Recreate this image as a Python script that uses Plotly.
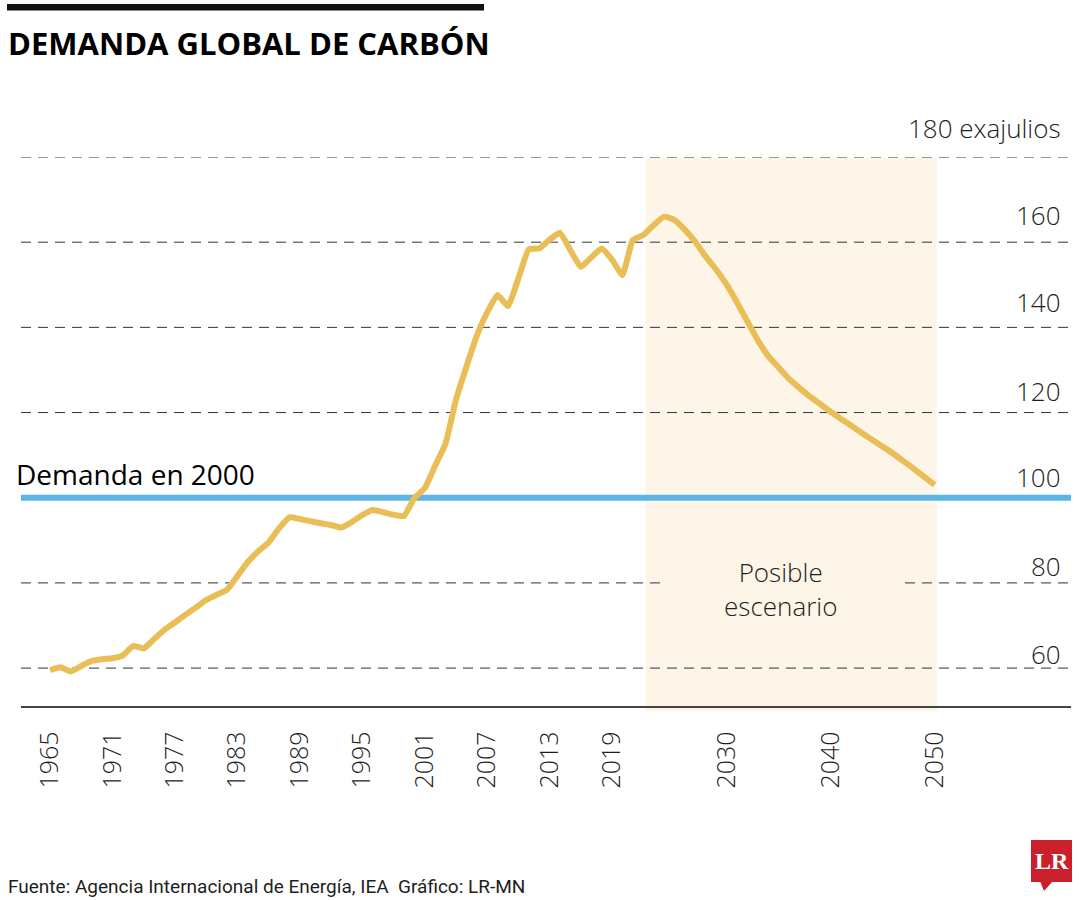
import plotly.graph_objects as go

# ---------------- data ----------------
years_hist = list(range(1965, 2025))
demand_hist = [
    59.5, 60.2, 59.2, 60.5, 61.7, 62.1, 62.3, 63.0, 65.2, 64.6,   # 1965-1974
    66.8, 69.0, 70.7, 72.5, 74.2, 76.0, 77.2, 78.4, 81.6, 84.9,   # 1975-1984
    87.4, 89.5, 92.8, 95.4, 95.0, 94.5, 94.0, 93.6, 93.0, 94.3,   # 1985-1994
    95.9, 97.1, 96.6, 96.0, 95.7, 99.9, 102.2, 107.5, 112.7, 123.0,  # 1995-2004
    130.7, 138.0, 143.5, 147.6, 145.0, 151.5, 158.3, 158.5, 160.6, 162.2,  # 2005-2014
    158.1, 154.2, 156.4, 158.5, 155.9, 152.3, 160.5, 161.7, 164.0, 166.0,  # 2015-2024
]
years_proj = list(range(2025, 2051))
demand_proj = [
    165.2, 162.9, 160.1, 156.6, 153.6, 150.1, 145.9, 141.4, 137.0, 133.3,  # 2025-2034
    130.6, 127.9, 125.8, 123.8, 122.0, 120.2, 118.5, 116.9, 115.2, 113.6,  # 2035-2044
    112.0, 110.4, 108.6, 106.8, 104.9, 103.0,                              # 2045-2050
]
demand_2000 = 100
scenario_years = [2022.25, 2050.2]

grid_values = [180, 160, 140, 120, 60]
split_grid_value = 80
y_label_values = [180, 160, 140, 120, 100, 80, 60]
y_label_texts = ["180 exajulios", "160", "140", "120", "100", "80", "60"]
tick_years = [1965, 1971, 1977, 1983, 1989, 1995, 2001, 2007, 2013, 2019, 2030, 2040, 2050]

title = "DEMANDA GLOBAL DE CARBÓN"
line_label = "Demanda en 2000"
scenario_label = "Posible<br>escenario"
source = "Fuente: Agencia Internacional de Energía, IEA  Gráfico: LR-MN"

# ---------------- styles ----------------
GOLD = "#E9BE57"
BLUE = "#5DB5E5"
CREAM = "#FDF5E7"
RED = "#C9202C"
TXT = "#1e1e1e"
FONT = "Open Sans"

W, H = 1080, 900
ML, MR, MT, MB = 21, 9, 157, 194
PW = W - ML - MR
PH = H - MT - MB


def px_x(px):
    return (px - ML) / PW


def px_y(py):
    return (H - MB - py) / PH


fig = go.Figure()

fig.add_trace(go.Scatter(
    x=years_hist + years_proj,
    y=demand_hist + demand_proj,
    mode="lines",
    line=dict(color=GOLD, width=6, shape="spline", smoothing=0.4),
    hoverinfo="skip",
    showlegend=False,
))

shapes = []
shapes.append(dict(type="rect", xref="x", yref="paper",
                   x0=scenario_years[0], x1=scenario_years[1], y0=-0.01, y1=0.998,
                   fillcolor=CREAM, line=dict(width=0), layer="below"))
dash = "10px,7px"
for v in grid_values:
    shapes.append(dict(type="line", xref="paper", yref="y", x0=0, x1=1, y0=v, y1=v,
                       line=dict(color="#333333", width=1, dash=dash), layer="below"))
for a, b in [(0, px_x(665)), (px_x(905), 1)]:
    shapes.append(dict(type="line", xref="paper", yref="y", x0=a, x1=b,
                       y0=split_grid_value, y1=split_grid_value,
                       line=dict(color="#333333", width=1, dash=dash), layer="below"))
shapes.append(dict(type="line", xref="paper", yref="y", x0=0, x1=1,
                   y0=demand_2000, y1=demand_2000,
                   line=dict(color=BLUE, width=6), layer="below"))
shapes.append(dict(type="rect", xref="paper", yref="paper",
                   x0=px_x(7), x1=px_x(484), y0=px_y(10.5), y1=px_y(4),
                   fillcolor="#111111", line=dict(width=0)))
shapes.append(dict(type="rect", xref="paper", yref="paper",
                   x0=px_x(1031), x1=px_x(1072), y0=px_y(882), y1=px_y(840),
                   fillcolor=RED, line=dict(width=0)))
shapes.append(dict(type="path", xref="paper", yref="paper",
                   path=f"M {px_x(1040)} {px_y(881)} L {px_x(1053)} {px_y(881)} L {px_x(1044)} {px_y(891)} Z",
                   fillcolor=RED, line=dict(width=0)))

annotations = []
annotations.append(dict(text=f"<b>{title}</b>", xref="paper", yref="paper",
                        x=px_x(6), y=px_y(43), xanchor="left", yanchor="middle",
                        showarrow=False, font=dict(family=FONT, size=31, color="#000000")))
annotations.append(dict(text=line_label, xref="paper", yref="paper",
                        x=px_x(14), y=px_y(474), xanchor="left", yanchor="middle",
                        showarrow=False, font=dict(family=FONT, size=28, color="#000000")))
annotations.append(dict(text=scenario_label, xref="paper", yref="paper",
                        x=px_x(780), y=px_y(589), xanchor="center", yanchor="middle",
                        showarrow=False, font=dict(family=FONT, size=26, color=TXT, weight=300)))
shifts = [29.5, 27, 25, 21.5, 21, 17, 14.5]
for v, t, s in zip(y_label_values, y_label_texts, shifts):
    annotations.append(dict(text=t, xref="paper", yref="y", x=px_x(1063), y=v,
                            xanchor="right", yanchor="middle", yshift=s, showarrow=False,
                            font=dict(family=FONT, size=26, color=TXT, weight=300)))
annotations.append(dict(text=source, xref="paper", yref="paper",
                        x=px_x(6), y=px_y(886), xanchor="left", yanchor="middle",
                        showarrow=False,
                        font=dict(family="Liberation Sans Narrow, Roboto, Open Sans", size=19, color=TXT)))
annotations.append(dict(text="<b>LR</b>", xref="paper", yref="paper",
                        x=px_x(1051.5), y=px_y(861), xanchor="center", yanchor="middle",
                        showarrow=False,
                        font=dict(family="Liberation Serif, DejaVu Serif", size=24, color="#ffffff")))

fig.update_layout(
    width=W, height=H,
    margin=dict(l=ML, r=MR, t=MT, b=MB, autoexpand=False),
    paper_bgcolor="white", plot_bgcolor="rgba(0,0,0,0)",
    shapes=shapes, annotations=annotations,
    xaxis=dict(range=[1962.21, 2063.1], tickvals=tick_years,
               ticktext=[str(y) for y in tick_years], tickangle=-90,
               tickfont=dict(family=FONT, size=25, color=TXT, weight=300),
               showgrid=False, zeroline=False, ticks="",
               showline=True, linecolor="#444444", linewidth=1.5,
               ticklabelstandoff=14, fixedrange=True),
    yaxis=dict(range=[51.1, 180], showgrid=False, zeroline=False,
               showticklabels=False, ticks="", fixedrange=True),
    showlegend=False,
)

fig.write_html("out.html",
               config={"displayModeBar": False, "staticPlot": True},
               post_script="document.body.style.margin='0';document.body.style.overflow='hidden';")
